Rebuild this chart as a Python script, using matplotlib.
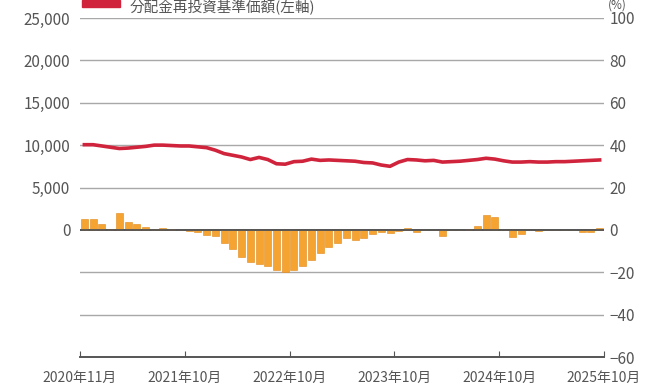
import matplotlib.pyplot as plt
import numpy as np

plt.rcParams['font.family'] = ['Noto Sans CJK JP', 'DejaVu Sans']

# monthly data, 2020-11 .. 2025-10
nav = [10050, 10050, 9900, 9750, 9600, 9650, 9750, 9850, 10000, 10000,
       9950, 9900, 9900, 9800, 9700, 9400, 9000, 8800, 8600, 8300,
       8550, 8300, 7800, 7750, 8050, 8100, 8350, 8200, 8250, 8200,
       8150, 8100, 7950, 7900, 7650, 7500, 8000, 8300, 8250, 8150,
       8200, 8000, 8050, 8100, 8200, 8300, 8450, 8350, 8150, 8000,
       8000, 8050, 8000, 8000, 8050, 8050, 8100, 8150, 8200, 8250]
ret = [5, 5, 3, 0.3, 8, 3.5, 3, 1.5, 0.3, 1,
       0.5, 0, -0.3, -1, -2.5, -3, -6, -9, -13, -15,
       -16, -17, -19, -20, -19, -17, -14, -11, -8, -6,
       -4, -5, -4, -2, -1, -1.5, -0.5, 1, -0.8, 0,
       0, -3, 0, 0, 0.3, 2, 7, 6, 0, -3.5,
       -2, 0, -0.5, 0, 0, 0, 0, -1, -1.2, 1]
tick_labels = ['2020年11月', '2021年10月', '2022年10月', '2023年10月', '2024年10月', '2025年10月']
left_ticks = [0, 5000, 10000, 15000, 20000, 25000]
right_ticks = [-60, -40, -20, 0, 20, 40, 60, 80, 100]

grey = '#555555'
x = np.arange(len(nav)) + 0.5

fig = plt.figure(figsize=(6.46, 3.87), dpi=100)
ax = fig.add_axes([80 / 646, 1 - 357 / 387, (604 - 80) / 646, (357 - 18) / 387])
ax2 = ax.twinx()

ax.set_ylim(-15000, 25000)
ax2.set_ylim(-60, 100)
ax.set_xlim(0, 60)

# grid lines on the % scale so they cover the lower part as well
for v in right_ticks[1:]:
    ax2.axhline(v, color='#a8a8a8' if v else '#555555', lw=1.0 if v else 1.3, zorder=1)

ax2.bar(x, ret, width=0.8, color='#f5a431', edgecolor='#e0891a', lw=0.4, zorder=2)
ax2.axhline(0, color='#555555', lw=1.3, zorder=3)
ax2.plot(x, np.array(nav) / 250, color='#d0243c', lw=2.6, zorder=4)

ax.set_yticks(left_ticks)
ax.set_yticklabels([f'{v:,}' for v in left_ticks])
ax2.set_yticks(right_ticks)
ax.set_xticks(np.arange(0, 61, 12))
ax.set_xticklabels(tick_labels)

for a in (ax, ax2):
    for s in ('top', 'left', 'right'):
        a.spines[s].set_visible(False)
    a.spines['bottom'].set_color('#555555')
    a.spines['bottom'].set_linewidth(1.2)
    a.tick_params(axis='y', length=0, labelsize=11, labelcolor=grey)
ax.tick_params(axis='y', pad=7)
ax2.tick_params(axis='y', pad=4)
ax.tick_params(axis='x', direction='in', length=4, color='#555555', labelsize=10, labelcolor=grey, pad=10)
ax.set_zorder(ax2.get_zorder() + 1)
ax.patch.set_visible(False)

# legend at the top
fig.patches.append(plt.Rectangle((82 / 646, 1 - 7 / 387), 38 / 646, 7 / 387,
                                 transform=fig.transFigure, color='#d0243c'))
fig.text(130 / 646, 1 - 7 / 387, '分配金再投資基準価額(左軸)', fontsize=10.5, color=grey, va='center')
fig.text(608 / 646, 1 - 5 / 387, '(%)', fontsize=8.5, color=grey, va='center')

fig.savefig('out.png', dpi=100)
